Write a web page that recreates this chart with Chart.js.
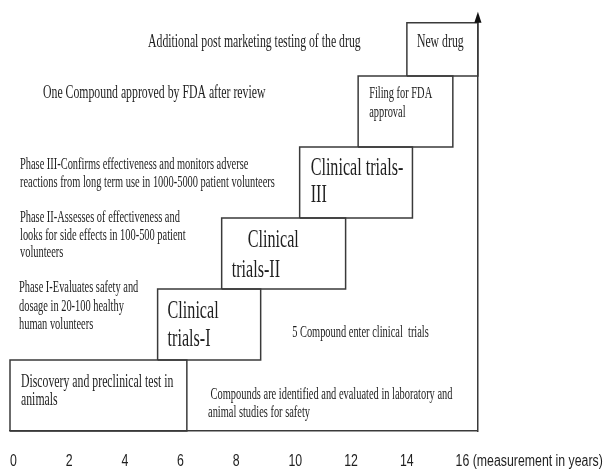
<!DOCTYPE html>
<html>
<head>
<meta charset="utf-8">
<script src="https://cdn.jsdelivr.net/npm/chart.js@4/dist/chart.umd.min.js"></script>
<style>
  html, body { margin: 0; padding: 0; background: #ffffff; }
  #wrap { width: 603px; height: 472px; position: relative; }
</style>
</head>
<body>
<div id="wrap"><canvas id="c"></canvas></div>
<script>
// ---- data ----
const stages = ['Discovery and preclinical test in animals', 'Clinical trials-I', 'Clinical trials-II',
                'Clinical trials-III', 'Filing for FDA approval', 'New drug'];
const startYears = [0, 5.3, 7.6, 10.4, 12.5, 14.25];
const endYears   = [6.35, 9.0, 12.05, 14.45, 15.9, 16.8];
const levelBottom = [0, 1, 2, 3, 4, 5];
const levelTop    = [1, 2, 3, 4, 5, 5.75];
const boxLines = [
  ['Discovery and preclinical test in', 'animals'],
  ['Clinical', 'trials-I'],
  ['    Clinical', 'trials-II'],
  ['Clinical trials-', 'III'],
  ['Filing for FDA', 'approval'],
  ['New drug']
];
const tickYears  = [0, 2, 4, 6, 8, 10, 12, 14, 16];
const tickLabels = ['0', '2', '4', '6', '8', '10', '12', '14', '16 (measurement in years)'];
const noteLines = [
  ['Additional post marketing testing of the drug'],
  ['One Compound approved by FDA after review'],
  ['Phase III-Confirms effectiveness and monitors adverse', 'reactions from long term use in 1000-5000 patient volunteers'],
  ['Phase II-Assesses of effectiveness and', 'looks for side effects in 100-500 patient', 'volunteers'],
  ['Phase I-Evaluates safety and', 'dosage in 20-100 healthy', 'human volunteers'],
  ['5 Compound enter clinical  trials'],
  [' Compounds are identified and evaluated in laboratory and', 'animal studies for safety']
];

// ---- layout / style (not data) ----
const SERIF = '"Liberation Serif", "Times New Roman", serif';
const SQUEEZE = 0.62;
const TICK_SQUEEZE = 0.77;
const boxText = [
  { size: 19, lh: 18.5, dx: 11, dy: 22 },
  { size: 26, lh: 28, dx: 10, dy: 22 },
  { size: 26, lh: 30, dx: 10, dy: 22 },
  { size: 26, lh: 27, dx: 11, dy: 21 },
  { size: 16.8, lh: 19, dx: 11, dy: 18 },
  { size: 19, lh: 19, dx: 10, dy: 19 }
];
const noteLayout = [
  { x: 4.955, y: 5.479, size: 19, lh: 18 },
  { x: 1.185, y: 4.761, size: 19, lh: 18 },
  { x: 0.359, y: 3.746, size: 16.8, lh: 18 },
  { x: 0.359, y: 3.0, size: 16.8, lh: 17.5 },
  { x: 0.323, y: 2.014, size: 16.8, lh: 18.5 },
  { x: 10.13, y: 1.38, size: 16.8, lh: 18 },
  { x: 7.11, y: 0.507, size: 16.8, lh: 18 }
];

const datasets = stages.map((name, i) => ({
  label: name,
  data: [
    { x: startYears[i], y: levelBottom[i] },
    { x: endYears[i],   y: levelBottom[i] },
    { x: endYears[i],   y: levelTop[i] },
    { x: startYears[i], y: levelTop[i] },
    { x: startYears[i], y: levelBottom[i] }
  ],
  showLine: true,
  borderColor: '#3a3a3a',
  borderWidth: 1.5,
  pointRadius: 0,
  pointHoverRadius: 0,
  fill: false,
  tension: 0,
  clip: 4
}));

function drawLines(ctx, lines, px, py, size, lh) {
  ctx.save();
  ctx.font = size + 'px ' + SERIF;
  ctx.fillStyle = '#1e1e1e';
  ctx.textBaseline = 'middle';
  ctx.textAlign = 'left';
  lines.forEach((t, k) => {
    ctx.save();
    ctx.translate(px, py + k * lh);
    ctx.scale(SQUEEZE, 1);
    ctx.fillText(t, 0, 0);
    ctx.restore();
  });
  ctx.restore();
}

const textPlugin = {
  id: 'texts',
  afterLayout(chart) {
    // draw the x tick labels slightly condensed (like the narrow font of the original)
    const sc = chart.scales.x;
    if (sc._squeezed) return;
    const orig = sc.drawLabels;
    sc.drawLabels = function (area) {
      const ctx = this.ctx;
      const rot = ctx.rotate;
      ctx.rotate = function (a) { rot.call(this, a); this.scale(TICK_SQUEEZE, 1); };
      try { orig.call(this, area); } finally { ctx.rotate = rot; }
    };
    sc._squeezed = true;
  },
  beforeDraw(chart) {
    const ctx = chart.ctx;
    ctx.save();
    ctx.fillStyle = '#ffffff';
    ctx.fillRect(0, 0, chart.width, chart.height);
    ctx.restore();
  },
  afterDatasetsDraw(chart) {
    const ctx = chart.ctx;
    const xs = chart.scales.x, ys = chart.scales.y;
    boxLines.forEach((lines, i) => {
      const L = boxText[i];
      const px = xs.getPixelForValue(startYears[i]) + L.dx;
      const py = ys.getPixelForValue(levelTop[i]) + L.dy;
      drawLines(ctx, lines, px, py, L.size, L.lh);
    });
    noteLines.forEach((lines, i) => {
      const L = noteLayout[i];
      drawLines(ctx, lines, xs.getPixelForValue(L.x), ys.getPixelForValue(L.y), L.size, L.lh);
    });
    const a = chart.chartArea;
    ctx.save();
    ctx.fillStyle = '#111';
    ctx.beginPath();
    ctx.moveTo(a.right, a.top - 4);
    ctx.lineTo(a.right - 3.6, a.top + 7);
    ctx.lineTo(a.right + 3.6, a.top + 7);
    ctx.closePath();
    ctx.fill();
    ctx.restore();
  }
};

new Chart(document.getElementById('c'), {
  type: 'scatter',
  data: { datasets },
  options: {
    responsive: true,
    maintainAspectRatio: false,
    animation: false,
    events: [],
    layout: { padding: { left: 10, right: 125.1, top: 15.65, bottom: 0 } },
    plugins: { legend: { display: false }, tooltip: { enabled: false } },
    scales: {
      x: {
        type: 'linear',
        min: 0,
        max: 16.8,
        grid: { display: false, drawTicks: false },
        border: { display: true, color: '#3a3a3a', width: 1.5 },
        afterBuildTicks: (s) => { s.ticks = tickYears.map(v => ({ value: v })); },
        afterFit: (s) => { s.height = 41; s.paddingLeft = 0; s.paddingRight = 0; },
        ticks: {
          autoSkip: false,
          maxRotation: 0,
          minRotation: 0,
          align: 'start',
          padding: 21,
          color: '#1e1e1e',
          font: { family: '"Liberation Sans", Arial, sans-serif', size: 16 },
          callback: (v, i) => tickLabels[i]
        }
      },
      y: {
        type: 'linear',
        position: 'right',
        min: 0,
        max: 5.85,
        grid: { display: false, drawTicks: false },
        border: { display: true, color: '#3a3a3a', width: 1.5 },
        ticks: { display: false },
        afterFit: (s) => { s.width = 0; }
      }
    }
  },
  plugins: [textPlugin]
});
</script>
</body>
</html>
